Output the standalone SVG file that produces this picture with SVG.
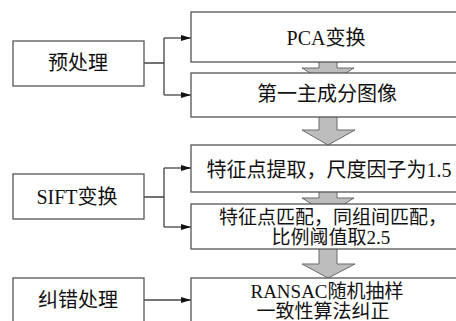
<svg xmlns="http://www.w3.org/2000/svg" width="456" height="321" viewBox="0 0 456 321">
<defs>
<style>
.box{fill:#fff;stroke:#555;stroke-width:1.3}
.ln{fill:none;stroke:#444;stroke-width:1.3}
.big{fill:#bdbdbd;stroke:#6a6a6a;stroke-width:1}
text{font-family:"Liberation Serif","Noto Sans CJK SC",serif;font-size:20px;fill:#111;text-anchor:middle;dominant-baseline:central}
text.two{font-size:19px}
</style>
<marker id="ah" viewBox="0 0 10 6" refX="10" refY="3" markerWidth="10" markerHeight="6" markerUnits="userSpaceOnUse" orient="auto">
<path d="M0,0 L10,3 L0,6 z" fill="#111"/>
</marker>
</defs>
<rect width="456" height="321" fill="#fff"/>
<g id="flow-arrows">
<polygon class="big" points="319,60 337,60 337,68 354,68 328,84 302,68 319,68"/>
<polygon class="big" points="319,115 337,115 337,130 355,130 328,145 302,130 319,130"/>
<polygon class="big" points="319,190 337,190 337,198 354,198 328,214 302,198 319,198"/>
<polygon class="big" points="319,247 337,247 337,264 355,264 328,278 302,264 319,264"/>
</g>
<g id="connectors">
<path class="ln" d="M144,63 H164 M164,38 V95"/>
<path class="ln" d="M164,38 H191" marker-end="url(#ah)"/>
<path class="ln" d="M164,95 H191" marker-end="url(#ah)"/>
<path class="ln" d="M144,197 H164 M164,168 V227"/>
<path class="ln" d="M164,168 H191" marker-end="url(#ah)"/>
<path class="ln" d="M164,227 H191" marker-end="url(#ah)"/>
<path class="ln" d="M144,300 H191" marker-end="url(#ah)"/>
</g>
<g id="n-pre"><rect class="box" x="13" y="41" width="131" height="45"/><text x="78" y="63">预处理</text></g>
<g id="n-sift"><rect class="box" x="13" y="174" width="131" height="45"/><text x="77" y="197">SIFT变换</text></g>
<g id="n-err"><rect class="box" x="13" y="278" width="131" height="60"/><text x="78" y="300">纠错处理</text></g>
<g id="n-pca"><rect class="box" x="191" y="12" width="275" height="50"/><text x="326" y="38">PCA变换</text></g>
<g id="n-pc1"><rect class="box" x="191" y="73" width="275" height="44"/><text x="327" y="94">第一主成分图像</text></g>
<g id="n-kp"><rect class="box" x="191" y="145" width="275" height="47"/><text x="329" y="170">特征点提取，尺度因子为1.5</text></g>
<g id="n-match"><rect class="box" x="191" y="204" width="275" height="45"/><text class="two" x="333" y="217">特征点匹配，同组间匹配，</text><text class="two" x="331" y="237">比例阈值取2.5</text></g>
<g id="n-ransac"><rect class="box" x="191" y="278" width="275" height="60"/><text class="two" x="327" y="291">RANSAC随机抽样</text><text class="two" x="323" y="311">一致性算法纠正</text></g>
</svg>
